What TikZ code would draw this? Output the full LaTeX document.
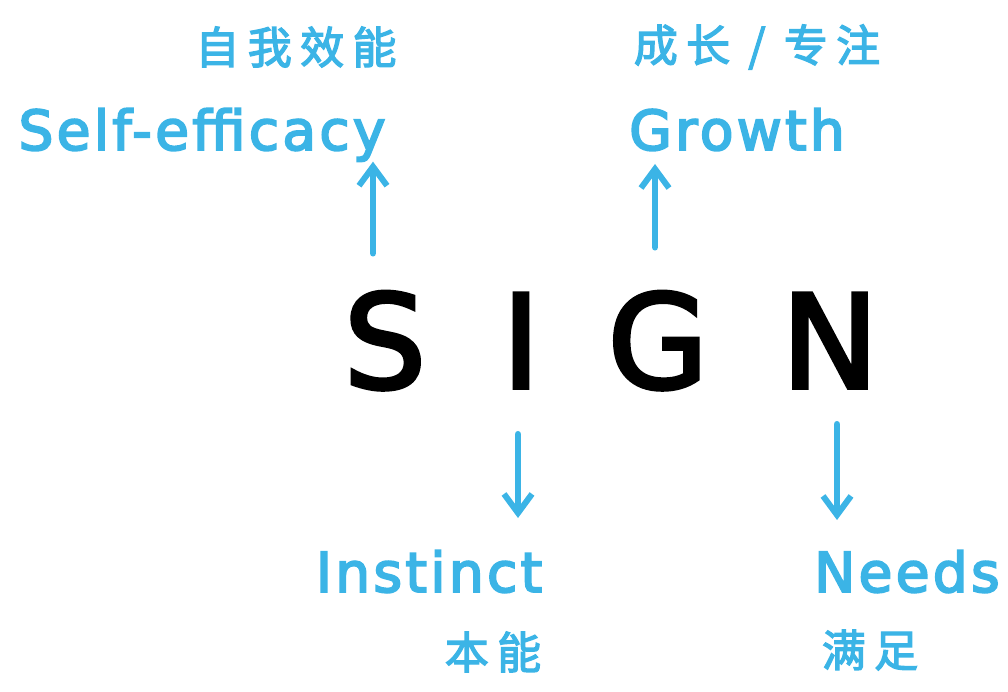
\documentclass[tikz,border=0pt]{standalone}
\usepackage{fontspec}
\setmainfont{DejaVu Sans}
\newfontfamily\signfont[FakeBold=3]{DejaVu Sans}
\newfontfamily\cjk[LetterSpace=19,FakeBold=3]{Noto Sans CJK SC}
\newfontfamily\hand[LetterSpace=6,FakeBold=3.5]{DejaVu Sans}
\usetikzlibrary{arrows.meta,positioning,calc}
\definecolor{skyblue}{RGB}{59,180,230}
\tikzset{%
  % letters and labels
  letter/.style={inner sep=0pt, anchor=base, font=\signfont\fontsize{130}{130}\selectfont},
  en/.style={inner sep=0pt, anchor=base, text=skyblue, font=\hand\fontsize{55}{55}\selectfont},
  zh/.style={inner sep=0pt, text=skyblue, font=\cjk\fontsize{44}{44}\selectfont},
  % arrows
  arr/.style={-{Straight Barb[length=19pt,width=28pt,line width=6pt]}, line width=6.5pt, draw=skyblue, line cap=round},
}
\begin{document}
\begin{tikzpicture}[x=1pt, y=-1pt]
  \useasboundingbox (0,0) rectangle (1008,692);
  \node[letter] (S) at (385,388) {S};
  \node[letter] (I) at (521,388) {I};
  \node[letter] (G) at (658,388) {G};
  \node[letter] (N) at (830,388) {N};

  \node[en] (eff) at (202,150) {Self-efficacy};
  \node[zh] (effzh) at (296,47) {自我效能};
  \node[en] (grow) at (737,150) {Growth};
  \node[zh] (growzh) at (757,47) {成长 / 专注};
  \node[en] (inst) at (429,592) {Instinct};
  \node[zh] (instzh) at (493,652) {本能};
  \node[en] (need) at (907,592) {Needs};
  \node[zh] (needzh) at (870,650) {满足};

  \draw[arr, shorten <=38pt] ([xshift=-12pt]S.north) -- ([xshift=-12pt]S.north |- eff.south);
  \draw[arr, shorten <=44pt, shorten >=13pt] ([xshift=-3pt]G.north) -- ([xshift=-3pt]G.north |- grow.south);
  \draw[arr, shorten <=46pt, shorten >=32pt] ([xshift=-3pt]I.south) -- ([xshift=-3pt]I.south |- inst.north);
  \draw[arr, shorten <=36pt, shorten >=30pt] ([xshift=7pt]N.south) -- ([xshift=7pt]N.south |- need.north);
\end{tikzpicture}
\end{document}
